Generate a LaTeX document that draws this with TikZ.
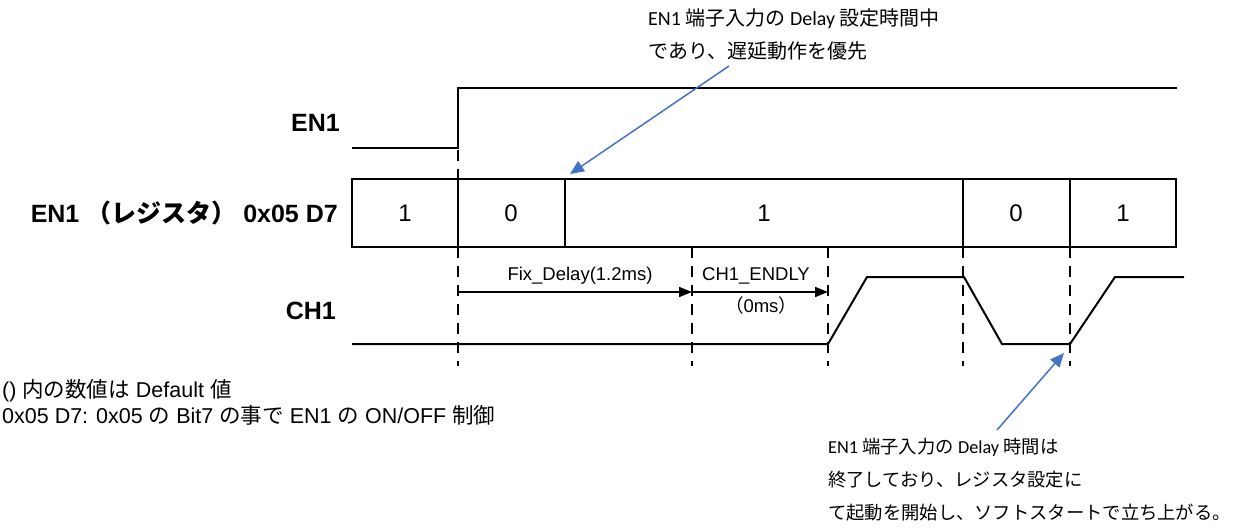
\documentclass[tikz,border=0pt]{standalone}
\usepackage{fontspec}
\setmainfont{Liberation Sans}
\newfontfamily\jp{Noto Sans CJK JP}
\newfontfamily\cb{Carlito}
\usetikzlibrary{arrows.meta}
\newcommand\J[1]{{\jp #1}}
\definecolor{noteblue}{RGB}{68,114,196}
\begin{document}
\begin{tikzpicture}[x=1pt,y=-1pt,
  sig/.style={line width=2pt, line join=miter},
  regbox/.style={line width=1.5pt},
  guide/.style={line width=1.3pt, dash pattern=on 11pt off 8pt},
  meas/.style={line width=1.5pt, -{Triangle[length=13pt,width=10pt]}},
  callout/.style={draw=noteblue, line width=1.5pt, -{Triangle[length=14pt,width=12pt]}},
  siglabel/.style={anchor=east, font=\fontsize{25}{29}\selectfont\bfseries, inner sep=0pt},
  bit/.style={font=\fontsize{24}{28}\selectfont, inner sep=0pt},
  measlabel/.style={font=\fontsize{18.5}{21}\selectfont, inner sep=0pt},
  annot/.style={anchor=west, align=left, inner sep=0pt, font=\fontsize{20}{33}\selectfont\cb},
  annotb/.style={anchor=west, align=left, inner sep=0pt, font=\fontsize{18.3}{33}\selectfont\cb},
  footnote/.style={anchor=west, align=left, inner sep=0pt, font=\fontsize{21.5}{26}\selectfont}
]
\useasboundingbox (0,0) rectangle (1235,528);

% signal labels
\node[siglabel] (lEN) at (340,123) {EN1};
\node[siglabel] (lREG) at (338,213) {EN1 \J{（レジスタ）} 0x05 D7};
\node[siglabel] (lCH) at (336,311) {CH1};

% EN1 waveform
\draw[sig] (352,148) -- (458,148) -- (458,88) -- (1177,88);

% register box
\draw[regbox] (352,179) rectangle (1176,247);
\foreach \x in {458,565,963,1070} \draw[regbox] (\x,179) -- (\x,247);
\node[bit] (b1) at (405,213) {1};
\node[bit] (b2) at (511,213) {0};
\node[bit] (b3) at (764,213) {1};
\node[bit] (b4) at (1016,213) {0};
\node[bit] (b5) at (1123,213) {1};

% guide lines
\draw[guide] (458,150) -- (458,179);
\foreach \x in {458,692,828,963,1070} \draw[guide] (\x,247) -- (\x,366);

% CH1 waveform
\draw[sig] (352,344) -- (828,344) -- (867,277) -- (964,277) -- (1002,344) -- (1070,344) -- (1115,277) -- (1184,277);

% measurement arrows
\coordinate (m0) at (458,292);
\coordinate (m1) at (692,292);
\coordinate (m2) at (828,292);
\draw[meas] (m0) -- (m1);
\draw[meas] (m1) -- (m2);
\node[measlabel] (tFix) at (580,276) {Fix\_Delay(1.2ms)};
\node[measlabel] (tEnd) at (756,276) {CH1\_ENDLY};
\node[measlabel] (tZero) at (761,305) {\J{（}0ms\J{）}};

% annotations
\node[annot] (nTop) at (648,34) {EN1 \J{端子入力の} Delay \J{設定時間中}\\\J{であり、遅延動作を優先}};
\coordinate (aTop0) at (729,66);
\coordinate (aTop1) at (570,174);
\draw[callout] (aTop0) -- (aTop1);

\node[annotb] (nBot) at (828,480) {EN1 \J{端子入力の} Delay \J{時間は}\\\J{終了しており、レジスタ設定に}\\\J{て起動を開始し、ソフトスタートで立ち上がる。}};
\coordinate (aBot0) at (997,430);
\coordinate (aBot1) at (1064,353);
\draw[callout] (aBot0) -- (aBot1);

% footnotes
\node[footnote] (f1) at (2,402) {() \J{内の数値は} Default \J{値}\\0x05 D7: 0x05 \J{の} Bit7 \J{の事で} EN1 \J{の} ON/OFF \J{制御}};
\end{tikzpicture}
\end{document}
